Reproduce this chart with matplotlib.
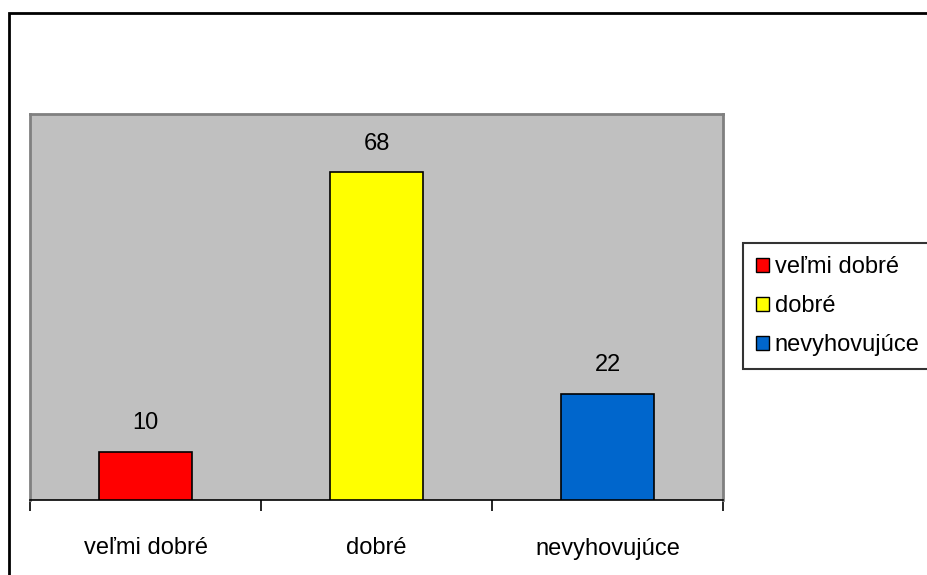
import matplotlib.pyplot as plt
from matplotlib.patches import Rectangle

categories = ['veľmi dobré', 'dobré', 'nevyhovujúce']
values = [10, 68, 22]
colors = ['#FF0000', '#FFFF00', '#0066CC']

plt.rcParams['font.family'] = ['Liberation Sans', 'DejaVu Sans']

W, H = 928, 575
fig = plt.figure(figsize=(W / 100, H / 100), dpi=100)

# outer chart border
fig.patches.append(Rectangle((9 / W, -0.1), 1.2, (H - 13) / H + 0.1,
                             transform=fig.transFigure, fill=False,
                             edgecolor='black', linewidth=2))

ax = fig.add_axes([30 / W, (H - 500) / H, 693 / W, 386 / H])
ax.set_facecolor('#C0C0C0')

x = list(range(len(categories)))
bars = ax.bar(x, values, width=0.4, color=colors, edgecolor='black',
              linewidth=1.2, zorder=3)

for xi, v in zip(x, values):
    ax.text(xi, v + 3.6, str(v), ha='center', va='bottom', fontsize=17)

ax.set_xlim(-0.5, len(categories) - 0.5)
ax.set_ylim(0, 80)
ax.set_yticks([])
ax.set_xticks(x)
ax.set_xticklabels(categories, fontsize=17)
ax.tick_params(axis='x', which='major', length=0, pad=27)
ax.set_xticks([i - 0.5 for i in range(len(categories) + 1)], minor=True)
ax.tick_params(axis='x', which='minor', length=8, width=1.2, color='black',
               direction='out')

for side in ['top', 'left', 'right']:
    ax.spines[side].set_color('#808080')
    ax.spines[side].set_linewidth(2)
ax.spines['bottom'].set_color('black')
ax.spines['bottom'].set_linewidth(1.2)

handles = [Rectangle((0, 0), 1, 1, facecolor=c, edgecolor='black', linewidth=1)
           for c in colors]
leg = fig.legend(handles, categories, loc='upper left',
                 bbox_to_anchor=(743 / W, 1 - 243 / H), fontsize=17,
                 frameon=True, fancybox=False, edgecolor='black',
                 handlelength=0.55, handleheight=0.55, handletextpad=0.25,
                 labelspacing=0.72, borderpad=0.55, borderaxespad=0)
leg.get_frame().set_linewidth(1.5)

fig.savefig('out.png', dpi=100)
